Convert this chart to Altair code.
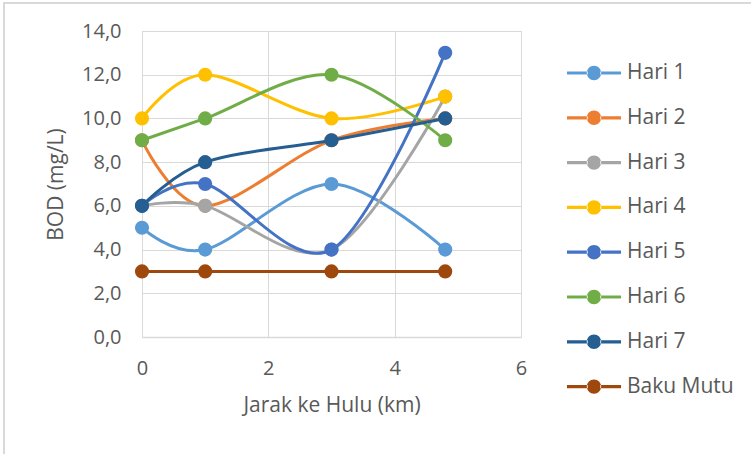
import altair as alt
import pandas as pd

# Data
jarak = [0, 1, 3, 4.8]
series_names = ["Hari 1", "Hari 2", "Hari 3", "Hari 4", "Hari 5", "Hari 6", "Hari 7", "Baku Mutu"]
hari1 = [5, 4, 7, 4]
hari2 = [9, 6, 9, 10]
hari3 = [6, 6, 4, 11]
hari4 = [10, 12, 10, 11]
hari5 = [6, 7, 4, 13]
hari6 = [9, 10, 12, 9]
hari7 = [6, 8, 9, 10]
baku_mutu = [3, 3, 3, 3]
colors = ["#5B9BD5", "#ED7D31", "#A5A5A5", "#FFC000", "#4472C4", "#70AD47", "#255E91", "#9E480E"]

all_vals = [hari1, hari2, hari3, hari4, hari5, hari6, hari7, baku_mutu]
rows = []
for name, vals in zip(series_names, all_vals):
    for x, v in zip(jarak, vals):
        rows.append({"Series": name, "Jarak": x, "BOD": v})
df = pd.DataFrame(rows)

FONT = "Open Sans"
TXT = "#595959"

W, H = 379, 306
PL, PT = 142, 31

color = alt.Color(
    "Series:N",
    scale=alt.Scale(domain=series_names, range=colors),
    legend=alt.Legend(
        title=None,
        orient="none",
        legendX=434,
        legendY=24,
        symbolType="M-1.5,-0.09H-0.35V0.09H-1.5Z M0.35,-0.09H1.5V0.09H0.35Z M-0.4,0A0.4,0.4 0 1,0 0.4,0A0.4,0.4 0 1,0 -0.4,0Z",
        symbolSize=1296,
        symbolStrokeWidth=0,
        labelFont=FONT,
        labelFontSize=21,
        labelColor=TXT,
        labelOffset=15,
        rowPadding=16.8,
        labelLimit=200,
    ),
)

xenc = alt.X(
    "Jarak:Q",
    scale=alt.Scale(domain=[0, 6], nice=False),
    axis=alt.Axis(
        values=[0, 2, 4, 6],
        title="Jarak ke Hulu (km)",
        labelFont=FONT, labelFontSize=20, labelColor=TXT, labelFlush=False,
        titleFont=FONT, titleFontSize=21, titleColor=TXT, titleFontWeight="normal",
        labelPadding=21, titlePadding=16,
        ticks=False, domainColor="#D9D9D9", domainWidth=1.5,
        gridColor="#D9D9D9", gridWidth=1,
    ),
)
yenc = alt.Y(
    "BOD:Q",
    scale=alt.Scale(domain=[0, 14], nice=False),
    axis=alt.Axis(
        values=[0, 2, 4, 6, 8, 10, 12, 14],
        labelExpr="replace(format(datum.value, '.1f'), '.', ',')",
        title="BOD (mg/L)",
        labelFont=FONT, labelFontSize=20, labelColor=TXT, labelFlush=False,
        titleFont=FONT, titleFontSize=21, titleColor=TXT, titleFontWeight="normal",
        labelPadding=21, titlePadding=15,
        ticks=False, domain=False,
        gridColor="#D9D9D9", gridWidth=1,
    ),
)

base = alt.Chart(df)

layers = []
for i, name in enumerate(series_names):
    sub = base.transform_filter(alt.datum.Series == name)
    line = sub.mark_line(interpolate="cardinal", strokeWidth=3, clip=False).encode(
        x=xenc, y=yenc, color=color
    )
    pts = sub.mark_point(filled=True, size=200, opacity=1, clip=False).encode(
        x=xenc, y=yenc, color=color
    )
    layers += [line, pts]

# chart frame
frame = alt.Chart(pd.DataFrame({"a": [0]})).mark_rect(
    fill=None, stroke="#D9D9D9", strokeWidth=2, clip=False
).encode(
    x=alt.value(-PL + 4), x2=alt.value(W + 240),
    y=alt.value(-PT + 3), y2=alt.value(H + 130),
)

chart = alt.layer(frame, *layers).properties(
    width=W, height=H,
    autosize=alt.AutoSizeParams(type="none"),
    padding={"left": PL, "top": PT, "right": 751 - PL - W, "bottom": 454 - PT - H},
).configure_view(stroke=None).configure(background="white")

chart.save("out.html", embed_options={"renderer": "svg", "actions": False})
